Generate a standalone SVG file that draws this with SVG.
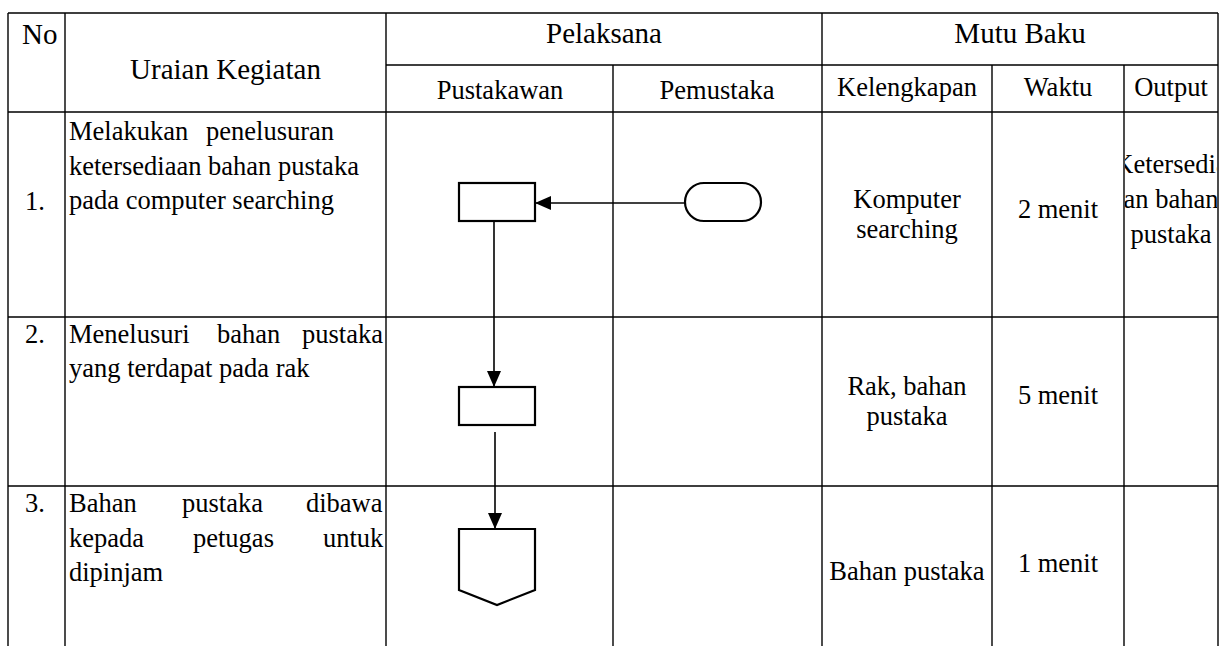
<svg xmlns="http://www.w3.org/2000/svg" width="1230" height="646" viewBox="0 0 1230 646">
<style>
.grid{stroke:#000;stroke-width:1.4;fill:none}
.shape{stroke:#000;stroke-width:2.2;fill:#fff}
.conn{stroke:#000;stroke-width:1.6;fill:none}
text{font-family:"Liberation Serif","Times New Roman",Tinos,serif;fill:#000;font-size:26.5px}
.h1{font-size:29px}
.c{text-anchor:middle}
</style>
<defs>
<marker id="arr" viewBox="0 0 16 14" refX="16" refY="7" markerWidth="16" markerHeight="14" markerUnits="userSpaceOnUse" orient="auto">
<path d="M0,0 L16,7 L0,14 Z" fill="#000"/>
</marker>
<clipPath id="outClip"><rect x="1125" y="113" width="92" height="203"/></clipPath>
</defs>
<rect width="1230" height="646" fill="#fff"/>
<g id="table">
<path class="grid" d="M8,13 H1218 M386,65 H1218 M8,112 H1218 M8,317 H1218 M8,486 H1218 M8,13 V646 M65,13 V646 M386,13 V646 M613,65 V646 M822,13 V646 M992,65 V646 M1124,65 V646 M1218,13 V646"/>
</g>
<g id="header">
<text class="h1" x="22" y="44">No</text>
<text class="h1 c" x="225.5" y="79">Uraian Kegiatan</text>
<text class="h1 c" x="604" y="43">Pelaksana</text>
<text class="h1 c" x="1020" y="43">Mutu Baku</text>
<text class="c" x="500" y="99">Pustakawan</text>
<text class="c" x="717" y="99">Pemustaka</text>
<text class="c" x="907" y="96">Kelengkapan</text>
<text class="c" x="1058" y="96">Waktu</text>
<text class="c" x="1171" y="96">Output</text>
</g>
<g id="row1">
<text x="25" y="210">1.</text>
<text x="69" y="140">Melakukan<tspan x="206">penelusuran</tspan></text>
<text x="69" y="175">ketersediaan bahan pustaka</text>
<text x="69" y="209">pada computer searching</text>
<text class="c" x="907" y="208">Komputer</text>
<text class="c" x="907" y="238">searching</text>
<text class="c" x="1058" y="218">2 menit</text>
<g clip-path="url(#outClip)">
<text class="c" x="1171" y="173">Ketersedia</text>
<text class="c" x="1171" y="208">an bahan</text>
<text class="c" x="1171" y="243">pustaka</text>
</g>
</g>
<g id="row2">
<text x="25" y="343">2.</text>
<text x="69" y="343">Menelusuri<tspan x="217">bahan</tspan><tspan x="302">pustaka</tspan></text>
<text x="69" y="377">yang terdapat pada rak</text>
<text class="c" x="907" y="395">Rak, bahan</text>
<text class="c" x="907" y="425">pustaka</text>
<text class="c" x="1058" y="404">5 menit</text>
</g>
<g id="row3">
<text x="25" y="512">3.</text>
<text x="69" y="512">Bahan<tspan x="182">pustaka</tspan><tspan x="306">dibawa</tspan></text>
<text x="69" y="547">kepada<tspan x="193">petugas</tspan><tspan x="323">untuk</tspan></text>
<text x="69" y="581">dipinjam</text>
<text class="c" x="907" y="580">Bahan pustaka</text>
<text class="c" x="1058" y="572">1 menit</text>
</g>
<g id="connectors">
<line class="conn" x1="685" y1="203" x2="535" y2="203" marker-end="url(#arr)"/>
<line class="conn" x1="494" y1="221" x2="494" y2="387" marker-end="url(#arr)"/>
<line class="conn" x1="495" y1="432" x2="495" y2="529" marker-end="url(#arr)"/>
</g>
<g id="node-process1"><rect class="shape" x="459" y="183" width="76" height="38"/></g>
<g id="node-start"><rect class="shape" x="685" y="183" width="76" height="38" rx="19" ry="19"/></g>
<g id="node-process2"><rect class="shape" x="459" y="387" width="76" height="38"/></g>
<g id="node-offpage"><path class="shape" d="M459,529 H535 V590 L497,605 L459,590 Z"/></g>
</svg>
